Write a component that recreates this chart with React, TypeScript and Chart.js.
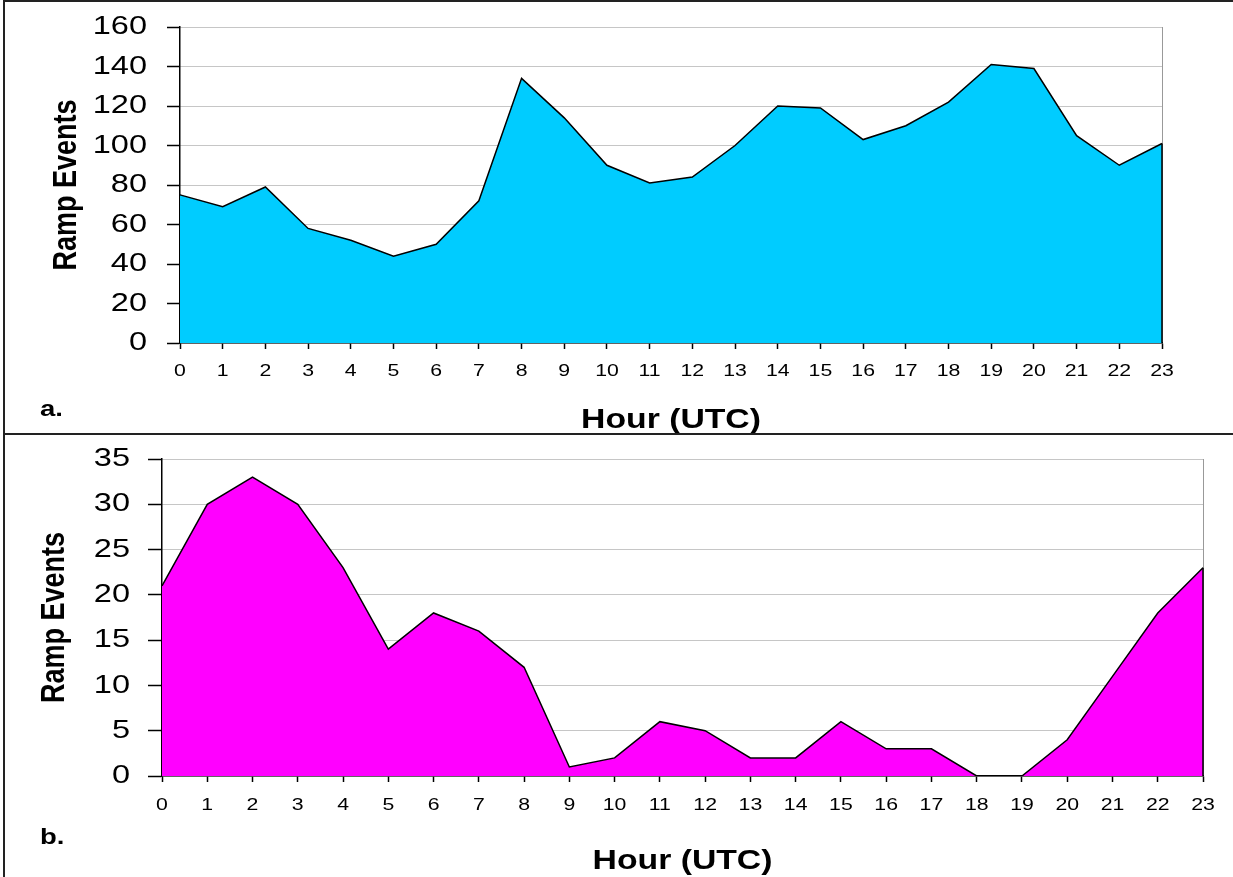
import React, { useEffect, useRef } from 'react';
import { Chart, registerables } from 'chart.js';

Chart.register(...registerables);

const FONT = "'Liberation Sans', Arial, Helvetica, sans-serif";
const TEXT_STRETCH_X = 1.25;

const hourLabels = ['0', '1', '2', '3', '4', '5', '6', '7', '8', '9', '10', '11', '12', '13', '14', '15', '16', '17', '18', '19', '20', '21', '22', '23'];
const rampEventsA = [75, 69, 79, 58, 52, 44, 50, 72, 134, 114, 90, 81, 84, 100, 120, 119, 103, 110, 122, 141, 139, 105, 90, 101];
const rampEventsB = [21, 30, 33, 30, 23, 14, 18, 16, 12, 1, 2, 6, 5, 2, 2, 6, 3, 3, 0, 0, 4, 11, 18, 23];
const yAxisTitle = 'Ramp Events';
const xAxisTitle = 'Hour (UTC)';
const panelLabels = ['a.', 'b.'];

type PanelOpts = {
  data: number[];
  color: string;
  yMax: number;
  yStep: number;
  yTickSize: number;
  xTickSize: number;
  yTickLen: number;
  yTickPad: number;
  xTickPad: number;
  yWidth: number;
  xHeight: number;
  padTop: number;
  padRight: number;
  yTitlePad: number;
  xTitlePad: number;
  label: string;
  labelX: number;
  labelY: number;
};

// Draw all canvas text slightly wider in screen space, like the reference figure.
function stretchText(canvas: HTMLCanvasElement) {
  const ctx = canvas.getContext('2d') as any;
  if (!ctx || ctx.__stretched) return;
  const orig = ctx.fillText.bind(ctx);
  ctx.fillText = (text: string, x: number, y: number, maxWidth?: number) => {
    const m = ctx.getTransform();
    const p = m.transformPoint(new DOMPoint(x, y));
    ctx.save();
    ctx.setTransform(new DOMMatrix().translate(p.x, p.y).scale(TEXT_STRETCH_X, 1).translate(-p.x, -p.y).multiply(m));
    if (maxWidth === undefined) orig(text, x, y);
    else orig(text, x, y, maxWidth);
    ctx.restore();
  };
  ctx.__stretched = true;
}

function makeChart(canvas: HTMLCanvasElement, p: PanelOpts) {
  stretchText(canvas);
  const extras = {
    id: 'panelExtras',
    afterDatasetsDraw(chart: any) {
      const meta = chart.getDatasetMeta(0);
      const last = meta.data[meta.data.length - 1];
      const y0 = chart.scales.y.getPixelForValue(0);
      const ctx = chart.ctx;
      ctx.save();
      ctx.strokeStyle = '#000';
      ctx.lineWidth = 1.5;
      ctx.beginPath();
      ctx.moveTo(last.x, last.y);
      ctx.lineTo(last.x, y0);
      ctx.stroke();
      ctx.restore();
    },
    afterDraw(chart: any) {
      const ctx = chart.ctx;
      ctx.save();
      ctx.fillStyle = '#000';
      ctx.font = `bold 22px ${FONT}`;
      ctx.textAlign = 'left';
      ctx.textBaseline = 'middle';
      ctx.fillText(p.label, p.labelX, p.labelY);
      ctx.restore();
    },
  };

  return new Chart(canvas, {
    type: 'line',
    data: {
      labels: hourLabels,
      datasets: [
        {
          data: p.data,
          fill: 'origin',
          backgroundColor: p.color,
          borderColor: '#000',
          borderWidth: 1.5,
          pointRadius: 0,
          pointHoverRadius: 0,
          tension: 0,
        },
      ],
    },
    options: {
      animation: false,
      responsive: false,
      maintainAspectRatio: false,
      events: [],
      layout: { padding: { left: 0, right: p.padRight, top: p.padTop, bottom: 0 } },
      plugins: { legend: { display: false }, tooltip: { enabled: false }, title: { display: false } },
      scales: {
        x: {
          type: 'category',
          offset: false,
          afterFit(scale: any) {
            scale.height = p.xHeight;
            scale.paddingLeft = 0;
            scale.paddingRight = 0;
          },
          border: { display: true, color: '#000', width: 1.5 },
          grid: {
            display: true,
            drawOnChartArea: true,
            drawTicks: true,
            tickLength: 6,
            tickColor: '#000',
            tickWidth: 1.5,
            lineWidth: 1,
            color: (ctx: any) => (ctx.index === hourLabels.length - 1 ? '#999' : 'rgba(0,0,0,0)'),
          },
          ticks: {
            autoSkip: false,
            maxRotation: 0,
            minRotation: 0,
            padding: p.xTickPad,
            color: '#000',
            font: { family: FONT, size: p.xTickSize },
          },
          title: {
            display: true,
            text: xAxisTitle,
            color: '#000',
            font: { family: FONT, size: 27, weight: 'bold', lineHeight: 1 },
            padding: { top: 0, bottom: p.xTitlePad },
          },
        },
        y: {
          min: 0,
          max: p.yMax,
          afterFit(scale: any) {
            scale.width = p.yWidth;
            scale.paddingTop = 0;
            scale.paddingBottom = 0;
          },
          border: { display: true, color: '#000', width: 1.5, dash: [1, 1] },
          grid: {
            display: true,
            drawOnChartArea: true,
            drawTicks: true,
            tickLength: p.yTickLen,
            tickColor: '#000',
            tickWidth: 1.5,
            lineWidth: 1,
            color: '#8c8c8c',
          },
          ticks: {
            stepSize: p.yStep,
            padding: p.yTickPad,
            color: '#000',
            font: { family: FONT, size: p.yTickSize },
          },
          title: {
            display: true,
            text: yAxisTitle,
            color: '#000',
            font: { family: FONT, size: 27, weight: 'bold', lineHeight: 1 },
            padding: { top: p.yTitlePad, bottom: 0 },
          },
        },
      },
    } as any,
    plugins: [extras],
  });
}

export default function App() {
  const topRef = useRef<HTMLCanvasElement>(null);
  const botRef = useRef<HTMLCanvasElement>(null);

  useEffect(() => {
    const a = makeChart(topRef.current!, {
      data: rampEventsA,
      color: '#00CCFF',
      yMax: 160,
      yStep: 20,
      yTickSize: 26,
      xTickSize: 17,
      yTickLen: 13,
      yTickPad: 20,
      xTickPad: 12,
      yWidth: 180,
      xHeight: 91,
      padTop: 27,
      padRight: 71,
      yTitlePad: 53,
      xTitlePad: 0,
      label: panelLabels[0],
      labelX: 40,
      labelY: 410,
    });
    const b = makeChart(botRef.current!, {
      data: rampEventsB,
      color: '#FF00FF',
      yMax: 35,
      yStep: 5,
      yTickSize: 26,
      xTickSize: 17,
      yTickLen: 14,
      yTickPad: 18,
      xTickPad: 13,
      yWidth: 162,
      xHeight: 101,
      padTop: 25,
      padRight: 30,
      yTitlePad: 41,
      xTitlePad: 2,
      label: panelLabels[1],
      labelX: 40,
      labelY: 404,
    });
    return () => {
      a.destroy();
      b.destroy();
    };
  }, []);

  const line = '#222';
  return (
    <div style={{ position: 'absolute', left: 0, top: 0, width: 1233, height: 877, background: '#fff', overflow: 'hidden' }}>
      <canvas ref={topRef} width={1233} height={434} style={{ position: 'absolute', left: 0, top: 0, width: 1233, height: 434 }} />
      <canvas ref={botRef} width={1233} height={443} style={{ position: 'absolute', left: 0, top: 434, width: 1233, height: 443 }} />
      <div style={{ position: 'absolute', left: 3, top: 0, width: 1230, height: 2, background: line }} />
      <div style={{ position: 'absolute', left: 3, top: 0, width: 2, height: 877, background: line }} />
      <div style={{ position: 'absolute', left: 3, top: 433, width: 1230, height: 2, background: line }} />
    </div>
  );
}
